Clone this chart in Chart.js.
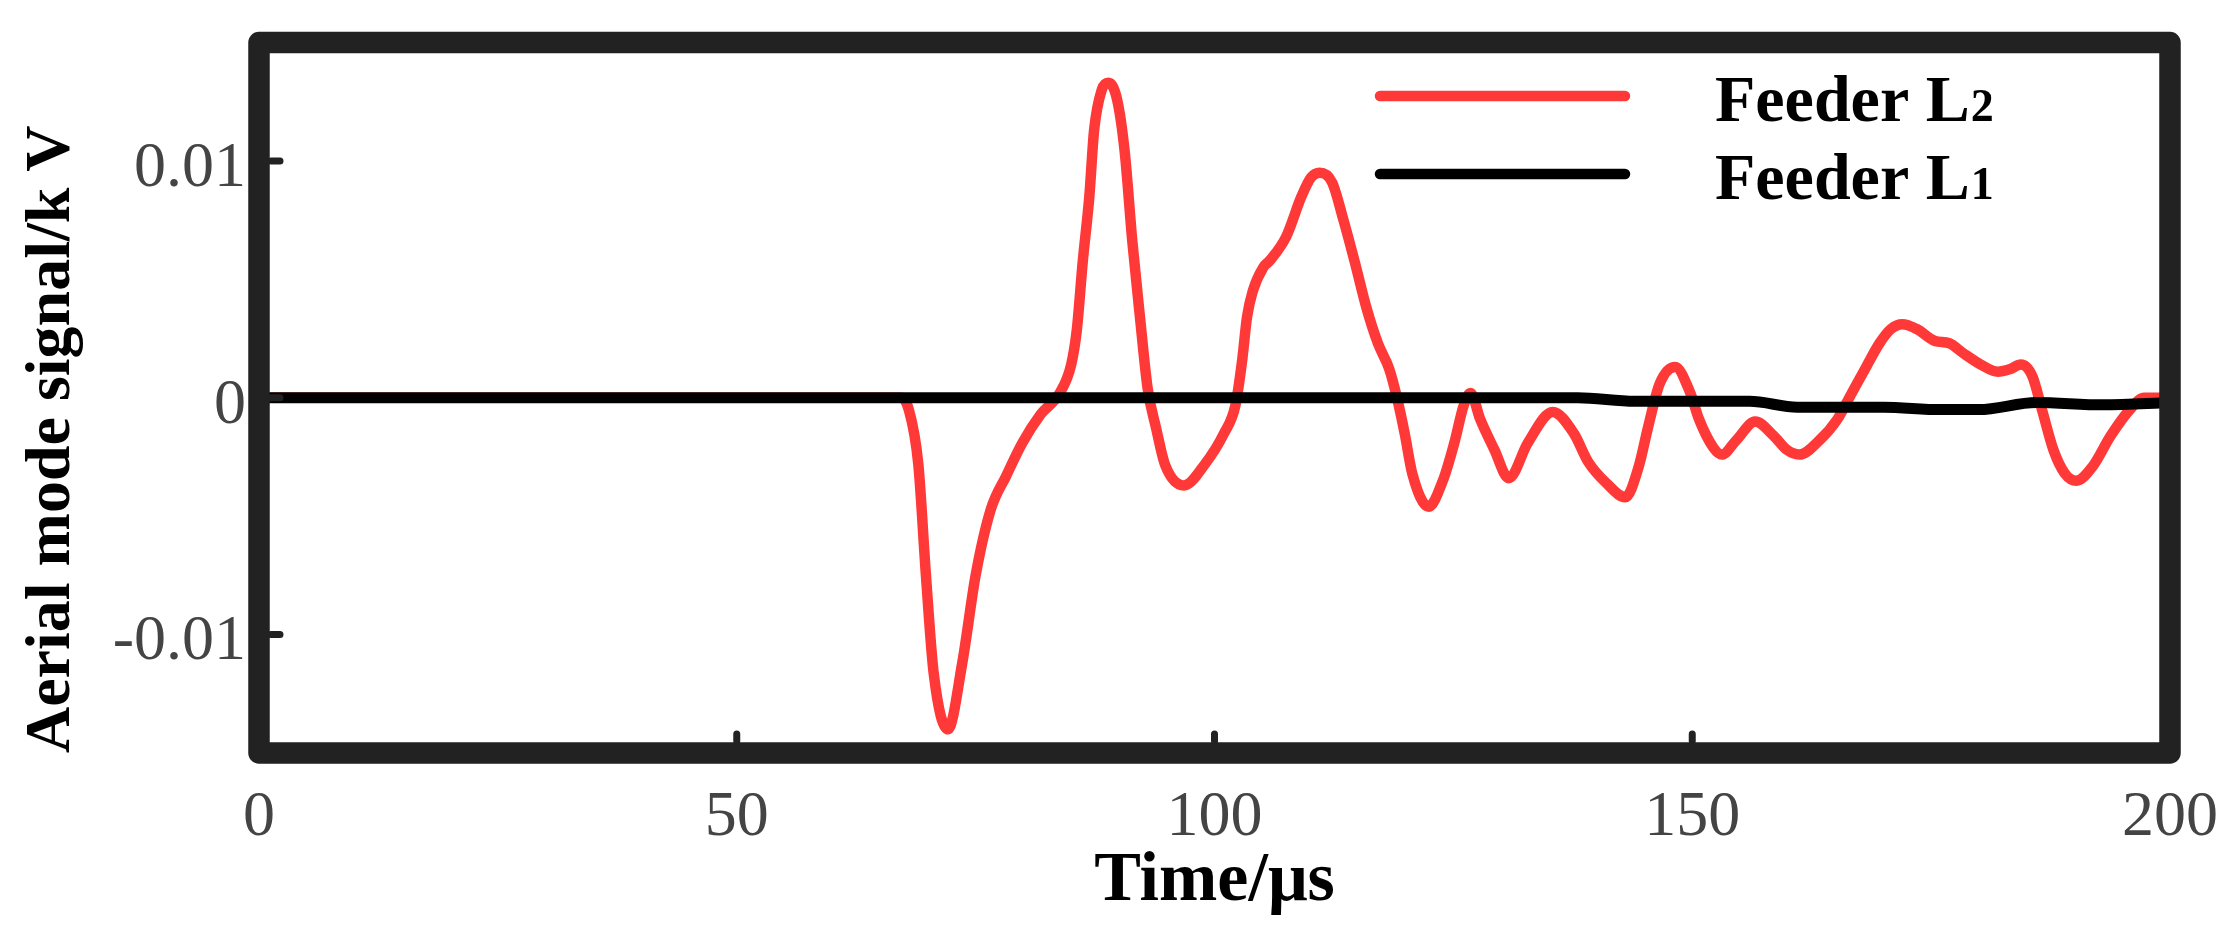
<!DOCTYPE html>
<html>
<head>
<meta charset="utf-8">
<script src="https://cdn.jsdelivr.net/npm/chart.js@4.4.1/dist/chart.umd.min.js"></script>
<style>
  html, body { margin: 0; padding: 0; background: #ffffff; }
  #wrap { width: 2226px; height: 947px; position: relative; }
</style>
</head>
<body>
<div id="wrap"><canvas id="c"></canvas></div>
<script>
// ---- Data ----
const timeL2 = [
  0, 66, 67.2, 68.0, 69.0, 69.8, 70.6, 72.1, 73.6, 75.0,
  76.6, 78.2, 79.9, 81.8, 83.8, 85.0, 85.6, 86.2, 86.9, 87.4,
  88.2, 88.9, 89.8, 90.6, 91.4, 92.2, 93.0, 93.9, 94.8, 96.8,
  99.0, 101.0, 102.2, 102.9, 103.4, 104.0, 105.1, 105.8, 107.5, 109.1,
  110.1, 111.0, 112.3, 113.5, 114.7, 115.9, 117.1, 118.3, 119.1, 119.9,
  120.7, 122.4, 123.9, 125.1, 126.1, 126.8, 127.8, 129.3, 130.8, 132.8,
  135.4, 137.6, 139.1, 141.0, 143.0, 144.4, 145.4, 146.6, 148.2, 149.8,
  150.7, 152.2, 153.1, 154.6, 156.6, 158.5, 159.9, 161.2, 163.3, 165.2,
  166.7, 168.2, 169.6, 170.8, 172.0, 173.5, 175.4, 176.9, 178.3, 180.2,
  182.0, 183.2, 184.4, 185.6, 186.6, 187.8, 189.0, 190.2, 191.9, 193.8,
  195.8, 197.3, 198.4, 200
];
const signalL2 = [
  0, 0, 0, -0.0005, -0.0028, -0.0075, -0.0116, -0.0140, -0.0112, -0.0075,
  -0.0047, -0.0033, -0.0019, -0.0007, 0.0002, 0.0014, 0.0029, 0.0057, 0.0085, 0.0113,
  0.0130, 0.0133, 0.0126, 0.0104, 0.0066, 0.0034, 0.0004, -0.0013, -0.0028, -0.0037,
  -0.0028, -0.0015, -0.0003, 0.0016, 0.0034, 0.0045, 0.0055, 0.0058, 0.0068, 0.0085,
  0.0093, 0.0095, 0.0091, 0.0075, 0.0057, 0.0038, 0.0023, 0.0012, 0.0000, -0.0015,
  -0.0032, -0.0046, -0.0035, -0.0019, -0.0003, 0.0002, -0.0009, -0.0022, -0.0034, -0.0019,
  -0.0006, -0.0015, -0.0027, -0.0036, -0.0042, -0.0029, -0.0012, 0.0006, 0.0013, 0.0002,
  -0.0009, -0.0021, -0.0024, -0.0018, -0.0010, -0.0016, -0.0022, -0.0024, -0.0018, -0.0009,
  0.0002, 0.0013, 0.0023, 0.0029, 0.0031, 0.0029, 0.0024, 0.0023, 0.0019, 0.0014,
  0.0011, 0.0012, 0.0014, 0.0009, -0.0005, -0.0022, -0.0032, -0.0035, -0.0029, -0.0016,
  -0.0005, 0.0000, 0.0000, 0.0000
];
const timeL1 = [0, 138, 144, 156, 161, 170, 176, 180, 186, 193, 200];
const signalL1 = [0, 0, -0.00015, -0.00015, -0.0004, -0.0004, -0.0005, -0.0005, -0.0002, -0.0003, -0.0002];

const seriesNames = ['Feeder L2', 'Feeder L1'];
const seriesColors = ['#ff3838', '#000000'];
const xTickValues = [0, 50, 100, 150, 200];
const yTickValues = [-0.01, 0, 0.01];
const yTickLabels = ['-0.01', '0', '0.01'];
const xRange = [0, 200];
const yRange = [-0.015, 0.015];
const xTitle = 'Time/\u03bcs';
const yTitle = 'Aerial mode signal/k V';

// ---- Styling ----
const SERIF = "'Liberation Serif', 'Times New Roman', serif";
const FRAME_COLOR = '#222222';
const TICK_COLOR = '#444444';

const toPoints = (xs, ys) => xs.map((t, i) => ({ x: t, y: ys[i] }));

const framePlugin = {
  id: 'frameAndLegend',
  afterDatasetsDraw(chart) {
    const { ctx, chartArea: a, scales } = chart;
    const xs = scales.x, ys = scales.y;
    ctx.save();
    // frame
    ctx.strokeStyle = FRAME_COLOR;
    ctx.lineWidth = 21.5;
    ctx.lineJoin = 'round';
    ctx.strokeRect(a.left, a.top, a.right - a.left, a.bottom - a.top);
    // inward tick stubs
    ctx.lineWidth = 7;
    ctx.lineCap = 'round';
    ctx.beginPath();
    ys.ticks.forEach(t => {
      const py = ys.getPixelForValue(t.value);
      if (py > a.top + 15 && py < a.bottom - 15) {
        ctx.moveTo(a.left + 12, py);
        ctx.lineTo(a.left + 21, py);
      }
    });
    xs.ticks.forEach(t => {
      const px = xs.getPixelForValue(t.value);
      if (px > a.left + 15 && px < a.right - 15) {
        ctx.moveTo(px, a.bottom - 12);
        ctx.lineTo(px, a.bottom - 19);
      }
    });
    ctx.stroke();
    // legend
    const order = [0, 1];
    order.forEach((di, row) => {
      const ds = chart.data.datasets[di];
      const ly = 96 + row * 78;
      ctx.strokeStyle = ds.borderColor;
      ctx.lineWidth = 10.5;
      ctx.lineCap = 'round';
      ctx.beginPath();
      ctx.moveTo(1380, ly);
      ctx.lineTo(1625, ly);
      ctx.stroke();
      const label = ds.label;
      const m = label.match(/^(.*?)(\d+)$/);
      const main = m ? m[1] : label;
      const sub = m ? m[2] : '';
      ctx.fillStyle = '#000000';
      ctx.textAlign = 'left';
      ctx.textBaseline = 'alphabetic';
      ctx.font = 'bold 66px ' + SERIF;
      ctx.fillText(main, 1715, ly + 25);
      const w = ctx.measureText(main).width;
      if (sub) {
        ctx.font = 'bold 46px ' + SERIF;
        ctx.fillText(sub, 1715 + w + 1, ly + 25);
      }
    });
    ctx.restore();
  }
};

new Chart(document.getElementById('c'), {
  type: 'line',
  data: {
    datasets: [
      {
        label: seriesNames[0],
        data: toPoints(timeL2, signalL2),
        borderColor: seriesColors[0],
        backgroundColor: seriesColors[0],
        borderWidth: 10.5,
        pointRadius: 0,
        cubicInterpolationMode: 'monotone',
        fill: false,
        order: 1
      },
      {
        label: seriesNames[1],
        data: toPoints(timeL1, signalL1),
        borderColor: seriesColors[1],
        backgroundColor: seriesColors[1],
        borderWidth: 11,
        pointRadius: 0,
        cubicInterpolationMode: 'monotone',
        fill: false,
        order: 0
      }
    ]
  },
  options: {
    responsive: true,
    maintainAspectRatio: false,
    devicePixelRatio: 1,
    animation: false,
    events: [],
    layout: { padding: { top: 42.5, right: 56, bottom: 0, left: 0 } },
    plugins: {
      legend: { display: false },
      tooltip: { enabled: false }
    },
    scales: {
      x: {
        type: 'linear',
        min: xRange[0],
        max: xRange[1],
        afterBuildTicks: s => { s.ticks = xTickValues.map(v => ({ value: v })); },
        afterFit: s => { s.height = 194; s.paddingLeft = 0; s.paddingRight = 0; },
        grid: { display: false, drawTicks: false },
        border: { display: false },
        ticks: {
          color: TICK_COLOR,
          padding: 33,
          maxRotation: 0,
          autoSkip: false,
          font: { family: SERIF, size: 64, lineHeight: 1 },
          callback: v => String(v)
        },
        title: {
          display: true,
          text: xTitle,
          color: '#000000',
          font: { family: SERIF, size: 70, weight: 'bold', lineHeight: 1 },
          padding: { top: 0, bottom: 30 }
        }
      },
      y: {
        type: 'linear',
        min: yRange[0],
        max: yRange[1],
        afterBuildTicks: s => { s.ticks = yTickValues.map(v => ({ value: v })); },
        afterFit: s => { s.width = 259; s.paddingTop = 0; s.paddingBottom = 0; },
        grid: { display: false, drawTicks: false },
        border: { display: false },
        ticks: {
          color: TICK_COLOR,
          padding: 13,
          autoSkip: false,
          labelOffset: 8,
          font: { family: SERIF, size: 64, lineHeight: 1 },
          callback: v => {
            const i = yTickValues.findIndex(t => Math.abs(t - v) < 1e-9);
            return i >= 0 ? yTickLabels[i] : '';
          }
        },
        title: {
          display: true,
          text: yTitle,
          align: 'start',
          color: '#000000',
          font: { family: SERIF, size: 64, weight: 'bold', lineHeight: 1 },
          padding: { top: 20, bottom: 0 }
        }
      }
    }
  },
  plugins: [framePlugin]
});
</script>
</body>
</html>
